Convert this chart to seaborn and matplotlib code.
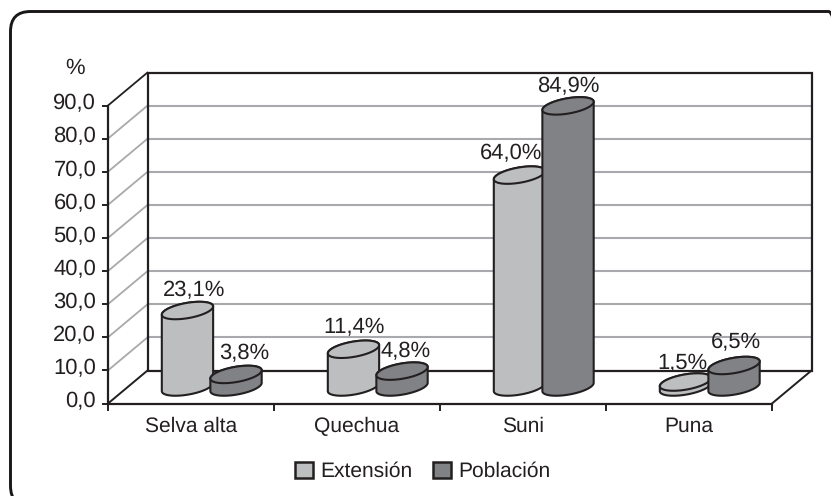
import numpy as np
import pandas as pd
import matplotlib
matplotlib.use("Agg")
import matplotlib.pyplot as plt
from matplotlib.patches import FancyBboxPatch, Patch, Polygon
from matplotlib.transforms import Affine2D, IdentityTransform, ScaledTranslation
import seaborn as sns

# Values
zones = ["Selva alta", "Quechua", "Suni", "Puna"]
extension = [23.1, 11.4, 64.0, 1.5]
poblacion = [3.8, 4.8, 84.9, 6.5]
series_names = ["Extensión", "Población"]
y_ticks = [0, 10, 20, 30, 40, 50, 60, 70, 80, 90]

# Styling
LIGHT = "#BCBEC0"
DARK = "#808285"
INK = "#231F20"
GRID = "#A7A9AC"
FONT_SIZE = 15.5
WORD_SIZE = 15

sns.set_theme(style="white")
plt.rcParams["font.family"] = ["Liberation Sans", "DejaVu Sans"]
plt.rcParams["text.color"] = INK
plt.rcParams["text.hinting"] = "no_hinting"
plt.rcParams["text.hinting_factor"] = 1

W, H = 831, 496
fig = plt.figure(figsize=(W / 100, H / 100), dpi=100, facecolor="white")

# The axes span the front plane of the box
left, right, base, top = 108, 772, 403.5, 105.5
ax = fig.add_axes([left / W, 1 - base / H, (right - left) / W, (base - top) / H])
ax.patch.set_alpha(0)

table = pd.DataFrame({
    "zona": zones * 2,
    "serie": [series_names[0]] * 4 + [series_names[1]] * 4,
    "valor": extension + poblacion,
})
sns.barplot(data=table, x="zona", y="valor", hue="serie", hue_order=series_names,
            palette=[LIGHT, DARK], width=0.585, gap=0, saturation=1,
            legend=False, ax=ax, linewidth=0)

ax.set_xlim(-0.5, 3.5)
ax.set_ylim(0, 90)
ax.set_xlabel("")
ax.set_ylabel("")

px_x = (right - left) / 4      # pixels per category
px_y = (base - top) / 90       # pixels per percentage point
depth_x = 39.5 / px_x
depth_y = 33.0 / px_y

# Back wall, floor and side wall
x0, x1 = -0.5, 3.5
for v in y_ticks[1:-1]:
    ax.plot([x0 + depth_x, x1 + depth_x], [v + depth_y] * 2, color=GRID, lw=1.5,
            clip_on=False, zorder=1, solid_capstyle="butt")
    ax.plot([x0, x0 + depth_x], [v, v + depth_y], color=GRID, lw=1.3,
            clip_on=False, zorder=1)
ax.add_patch(Polygon(
    [(x0 + depth_x, depth_y), (x0 + depth_x, 90 + depth_y),
     (x1 + depth_x, 90 + depth_y), (x1 + depth_x, depth_y)],
    closed=True, fill=False, edgecolor=INK, lw=1.6, clip_on=False, zorder=1.2))
ax.plot([x0, x0 + depth_x], [90, 90 + depth_y], color=INK, lw=1.3, clip_on=False, zorder=1.2)
ax.plot([x0, x0 + depth_x], [0, depth_y], color=INK, lw=1.4, clip_on=False, zorder=1.2)
ax.plot([x1, x1 + depth_x], [0, depth_y], color=INK, lw=1.4, clip_on=False, zorder=1.2)

# Cylinders stand about halfway into the box
shift_x = depth_x / 2 + 1.0 / px_x
shift_y = depth_y / 2
mid_depth = Affine2D().translate(shift_x, shift_y) + ax.transData
TILT = np.radians(10)
MINOR = 7.6


def ellipse_arc(cx, cy, major, t_from, t_to):
    """Points of the tilted cap ellipse, returned in data units."""
    t = np.linspace(t_from, t_to, 60)
    ex = major * np.cos(t) * np.cos(TILT) - MINOR * np.sin(t) * np.sin(TILT)
    ey = major * np.cos(t) * np.sin(TILT) + MINOR * np.sin(t) * np.cos(TILT)
    return np.column_stack([cx + ex / px_x, cy + ey / px_y])


bars = list(ax.patches)[:8]
order = [0, 4, 1, 5, 2, 6, 3, 7]
side_t = np.arctan(-(MINOR / 26.0) * np.tan(TILT))
centres = []
for bar in bars:
    centres.append(bar.get_x() + bar.get_width() / 2)

for rank, idx in enumerate(order):
    bar = bars[idx]
    colour = LIGHT if idx < 4 else DARK
    cx = centres[idx]
    height = bar.get_height()
    major = 51.0 / 2 / np.cos(TILT) * 1.005
    z = 3 + rank

    # Outline of the body: lower half of the base, upper half of the top
    lower = ellipse_arc(cx, 0, major, np.pi + side_t, 2 * np.pi + side_t)
    upper = ellipse_arc(cx, height, major, side_t, np.pi + side_t)
    body = np.vstack([lower, upper])
    fill = Polygon(body, closed=True, facecolor=colour, edgecolor="none",
                   transform=mid_depth, clip_on=False, zorder=z)
    ax.add_patch(fill)

    # The rectangular bar is trimmed to the body and widened to its full size
    bar.set_transform(mid_depth)
    bar.set_zorder(z + 0.1)
    bar.set_x(cx - 0.16)
    bar.set_width(0.32)
    bar.set_clip_path(fill)

    stroke = Polygon(body, closed=True, fill=False, edgecolor=INK, lw=1.5,
                     transform=mid_depth, clip_on=False, zorder=z + 0.15,
                     joinstyle="round")
    ax.add_patch(stroke)

    # Top cap
    cap = Polygon(ellipse_arc(cx, height, major, 0, 2 * np.pi), closed=True,
                  facecolor=colour, edgecolor=INK, lw=1.5, transform=mid_depth,
                  clip_on=False, zorder=z + 0.2)
    ax.add_patch(cap)

# Value labels, nudged in pixels from the top of each cylinder
nudges = [(6.5, 20), (1, 22), (-8, 21.5), (-3, 19), (8.5, 21), (4, 19.5), (0, 19.5), (1.5, 23)]
for idx, value in enumerate(extension + poblacion):
    dx, dy = nudges[idx]
    ax.annotate(f"{value:.1f}%".replace(".", ","),
                xy=(centres[idx] + shift_x, value + shift_y),
                xytext=(dx * 0.72, dy * 0.72), textcoords="offset points",
                ha="center", va="center", fontsize=FONT_SIZE, color=INK,
                annotation_clip=False, zorder=30)

# Axes and ticks
for name in ("top", "right"):
    ax.spines[name].set_visible(False)
for name in ("left", "bottom"):
    ax.spines[name].set_color(INK)
    ax.spines[name].set_linewidth(1.6)
    ax.spines[name].set_zorder(2)

ax.set_yticks(y_ticks)
ax.set_yticklabels([f"{v:.1f}".replace(".", ",") for v in y_ticks], fontsize=FONT_SIZE, color=INK)
ax.tick_params(axis="y", left=True, length=4.5, width=1.4, color=INK, pad=4)

# The value-axis labels sit a little above their ticks
raise_labels = ScaledTranslation(0, 4.0 / 100, fig.dpi_scale_trans)
for label in ax.get_yticklabels():
    label.set_transform(label.get_transform() + raise_labels)

ax.set_xticks(np.arange(-0.5, 4, 1))
ax.set_xticklabels([])
ax.set_xticks(np.arange(4), labels=zones, minor=True)
ax.tick_params(axis="x", which="major", bottom=True, length=5, width=1.4, color=INK)
ax.tick_params(axis="x", which="minor", bottom=False, length=0, pad=9.5, labelsize=WORD_SIZE, labelcolor=INK)

fig.text(75 / W, 1 - 68.5 / H, "%", ha="center", va="center", fontsize=FONT_SIZE, color=INK)

# Legend
handles = [Patch(facecolor=LIGHT, edgecolor=INK, lw=1.8, label=series_names[0]),
           Patch(facecolor=DARK, edgecolor=INK, lw=1.8, label=series_names[1])]
fig.legend(handles=handles, ncols=2, loc="center", frameon=False,
           bbox_to_anchor=(423 / W, 1 - 471.5 / H), fontsize=WORD_SIZE,
           handlelength=0.85, handleheight=0.85, handletextpad=0.35, columnspacing=1.0,
           borderpad=0, labelcolor=INK)

# Rounded frame, running past the right and bottom edges
frame = FancyBboxPatch((10.5, H - 506), 838, 494.5,
                       boxstyle="round,pad=0,rounding_size=20",
                       facecolor="none", edgecolor="#1A1718", lw=2.1,
                       transform=IdentityTransform())
fig.add_artist(frame)

fig.savefig("out.png", dpi=100)
